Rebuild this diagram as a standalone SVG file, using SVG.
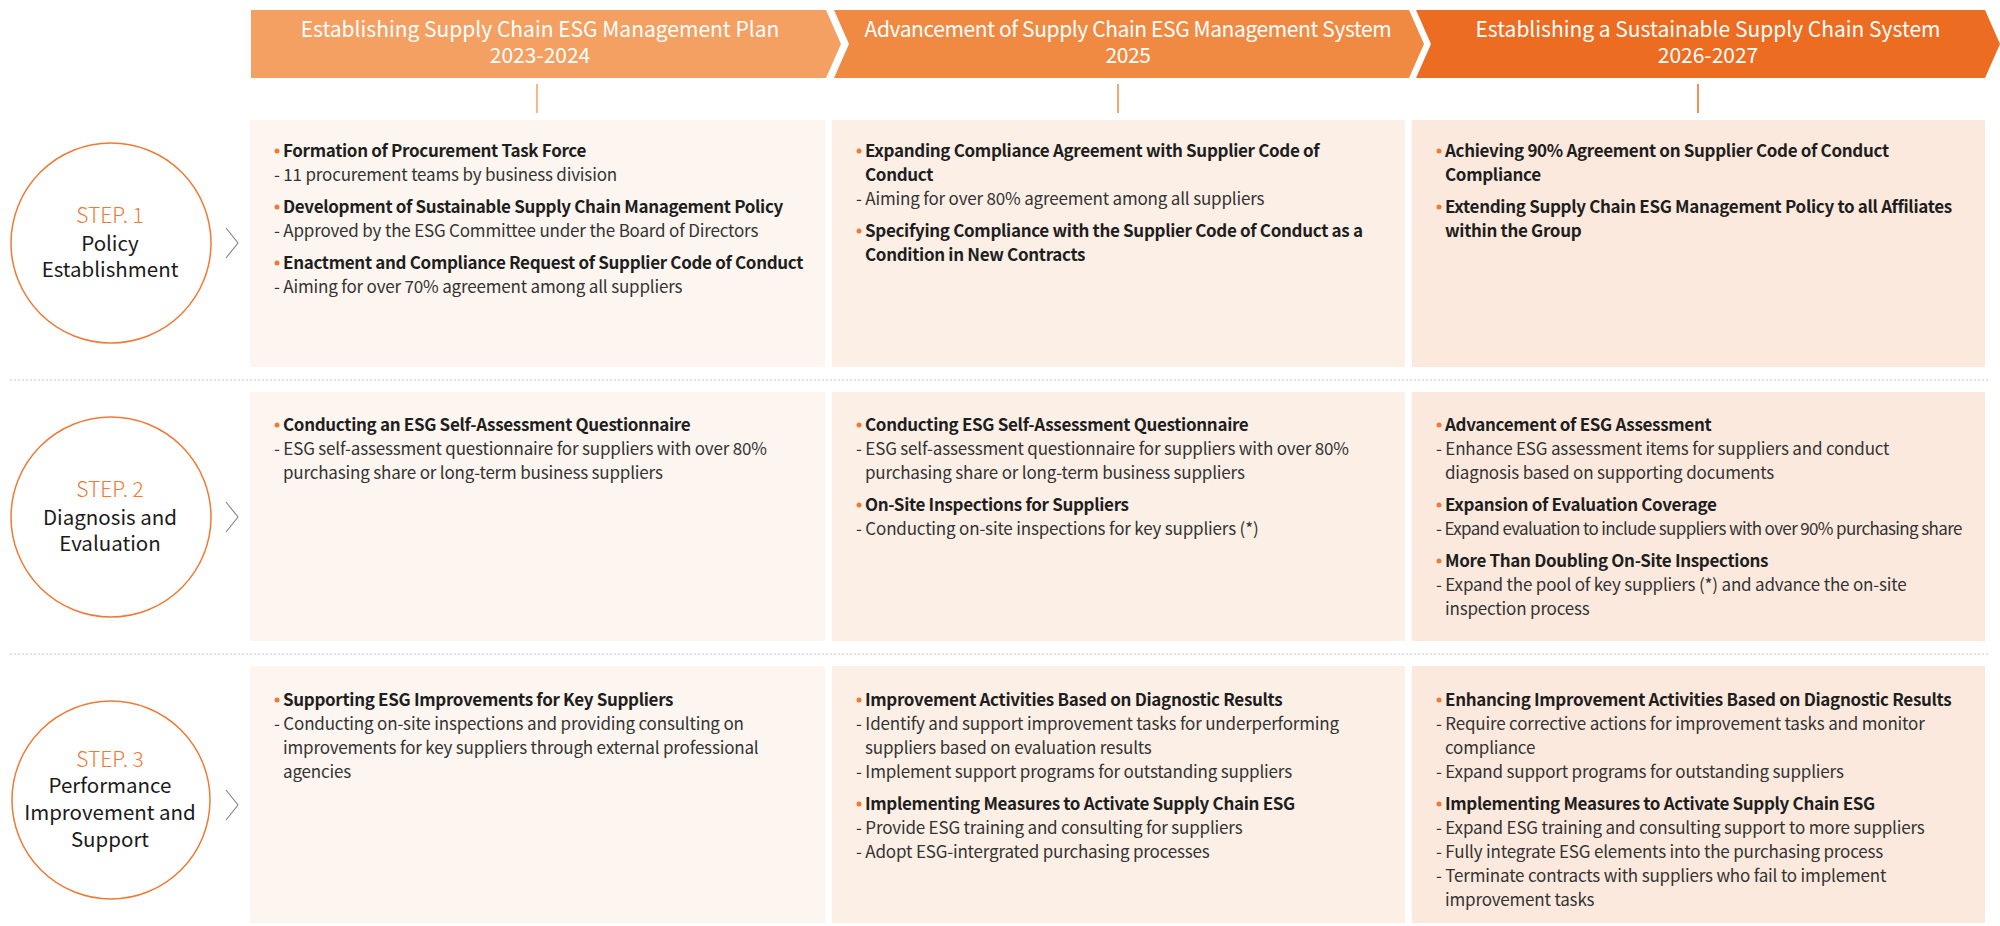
<svg xmlns="http://www.w3.org/2000/svg" width="2000" height="926" viewBox="0 0 2000 926">
<style>
.bt{font-family:"Noto Sans CJK KR","Source Han Sans",sans-serif;font-size:21px;fill:#fff;text-anchor:middle}
.h{font-family:"Noto Sans CJK KR","Source Han Sans",sans-serif;font-size:17px;font-weight:bold;fill:#1e1e1e;letter-spacing:-0.32px}
.d{font-family:"Noto Sans CJK KR","Source Han Sans",sans-serif;font-size:17px;fill:#333;letter-spacing:-0.18px}
.st{font-family:"Noto Sans CJK KR","Source Han Sans",sans-serif;font-size:21px;font-weight:300;fill:#EE7A35;text-anchor:middle}
.sn{font-family:"Noto Sans CJK KR","Source Han Sans",sans-serif;font-size:20.5px;fill:#1a1a1a;text-anchor:middle}
.circ{fill:#fff;stroke:#EE7A35;stroke-width:1.5}
.dot{fill:#EE7A35}
.chev{fill:none;stroke:#8a8a8a;stroke-width:1.2}
.sep{stroke:#c8c8c8;stroke-width:1;stroke-dasharray:2 2}
</style>

<g id="header">
  <g id="phase1">
    <polygon points="251,10 826,10 841,44 826,78 251,78" fill="#F4A062"/>
    <text class="bt" x="540" y="37">Establishing Supply Chain ESG Management Plan<tspan x="540" dy="26">2023-2024</tspan></text>
  </g>
  <g id="phase2">
    <polygon points="834,10 1409,10 1424,44 1409,78 834,78 849,44" fill="#F08A42"/>
    <text class="bt" x="1128" y="37" style="letter-spacing:-0.4px">Advancement of Supply Chain ESG Management System<tspan x="1128" dy="26">2025</tspan></text>
  </g>
  <g id="phase3">
    <polygon points="1416,10 1985,10 2000,44 1985,78 1416,78 1431,44" fill="#EC6D21"/>
    <text class="bt" x="1708" y="37">Establishing a Sustainable Supply Chain System<tspan x="1708" dy="26">2026-2027</tspan></text>
  </g>
</g>

<g id="separators">
  <line class="sep" x1="10" y1="380" x2="1990" y2="380"/>
  <line class="sep" x1="10" y1="654" x2="1990" y2="654"/>
</g>

<g id="connectors">
  <line x1="537" y1="84" x2="537" y2="113" stroke="#F4A062" stroke-width="1.5"/>
  <line x1="1118" y1="84" x2="1118" y2="113" stroke="#F08A42" stroke-width="1.5"/>
  <line x1="1698" y1="84" x2="1698" y2="113" stroke="#EC6D21" stroke-width="1.5"/>
  <polyline class="chev" points="226,228 238,243 226,258"/>
  <polyline class="chev" points="226,502 238,517 226,532"/>
  <polyline class="chev" points="226,790 238,805 226,820"/>
</g>

<g id="step1">
  <circle class="circ" cx="111" cy="243" r="100"/>
  <text class="st" x="110" y="223">STEP. 1</text>
  <text class="sn" x="110" y="251">Policy</text>
  <text class="sn" x="110" y="277">Establishment</text>
</g>
<g id="step2">
  <circle class="circ" cx="111" cy="517" r="100"/>
  <text class="st" x="110" y="497">STEP. 2</text>
  <text class="sn" x="110" y="525">Diagnosis and</text>
  <text class="sn" x="110" y="551">Evaluation</text>
</g>
<g id="step3">
  <circle class="circ" cx="111" cy="800" r="99"/>
  <text class="st" x="110" y="767">STEP. 3</text>
  <text class="sn" x="110" y="793">Performance</text>
  <text class="sn" x="110" y="820">Improvement and</text>
  <text class="sn" x="110" y="847">Support</text>
</g>

<!-- Row 1 -->
<g id="r1c1">
  <rect x="250" y="120" width="575" height="247" fill="#FDF5EF"/>
  <circle class="dot" cx="277" cy="151" r="2.5"/>
  <text class="h" x="283" y="157">Formation of Procurement Task Force</text>
  <text class="d" x="274" y="181">- 11 procurement teams by business division</text>
  <circle class="dot" cx="277" cy="207" r="2.5"/>
  <text class="h" x="283" y="213">Development of Sustainable Supply Chain Management Policy</text>
  <text class="d" x="274" y="237">- Approved by the ESG Committee under the Board of Directors</text>
  <circle class="dot" cx="277" cy="263" r="2.5"/>
  <text class="h" x="283" y="269">Enactment and Compliance Request of Supplier Code of Conduct</text>
  <text class="d" x="274" y="293">- Aiming for over 70% agreement among all suppliers</text>
</g>
<g id="r1c2">
  <rect x="832" y="120" width="573" height="247" fill="#FCEFE6"/>
  <circle class="dot" cx="859" cy="151" r="2.5"/>
  <text class="h" x="865" y="157">Expanding Compliance Agreement with Supplier Code of</text>
  <text class="h" x="865" y="181">Conduct</text>
  <text class="d" x="856" y="205">- Aiming for over 80% agreement among all suppliers</text>
  <circle class="dot" cx="859" cy="231" r="2.5"/>
  <text class="h" x="865" y="237">Specifying Compliance with the Supplier Code of Conduct as a</text>
  <text class="h" x="865" y="261">Condition in New Contracts</text>
</g>
<g id="r1c3">
  <rect x="1412" y="120" width="573" height="247" fill="#FCE9DD"/>
  <circle class="dot" cx="1439" cy="151" r="2.5"/>
  <text class="h" x="1445" y="157">Achieving 90% Agreement on Supplier Code of Conduct</text>
  <text class="h" x="1445" y="181">Compliance</text>
  <circle class="dot" cx="1439" cy="207" r="2.5"/>
  <text class="h" x="1445" y="213">Extending Supply Chain ESG Management Policy to all Affiliates</text>
  <text class="h" x="1445" y="237">within the Group</text>
</g>

<!-- Row 2 -->
<g id="r2c1">
  <rect x="250" y="392" width="575" height="249" fill="#FDF5EF"/>
  <circle class="dot" cx="277" cy="425" r="2.5"/>
  <text class="h" x="283" y="431">Conducting an ESG Self-Assessment Questionnaire</text>
  <text class="d" x="274" y="455">- ESG self-assessment questionnaire for suppliers with over 80%</text>
  <text class="d" x="283" y="479">purchasing share or long-term business suppliers</text>
</g>
<g id="r2c2">
  <rect x="832" y="392" width="573" height="249" fill="#FCEFE6"/>
  <circle class="dot" cx="859" cy="425" r="2.5"/>
  <text class="h" x="865" y="431">Conducting ESG Self-Assessment Questionnaire</text>
  <text class="d" x="856" y="455">- ESG self-assessment questionnaire for suppliers with over 80%</text>
  <text class="d" x="865" y="479">purchasing share or long-term business suppliers</text>
  <circle class="dot" cx="859" cy="505" r="2.5"/>
  <text class="h" x="865" y="511">On-Site Inspections for Suppliers</text>
  <text class="d" x="856" y="535">- Conducting on-site inspections for key suppliers (*)</text>
</g>
<g id="r2c3">
  <rect x="1412" y="392" width="573" height="249" fill="#FCE9DD"/>
  <circle class="dot" cx="1439" cy="425" r="2.5"/>
  <text class="h" x="1445" y="431">Advancement of ESG Assessment</text>
  <text class="d" x="1436" y="455">- Enhance ESG assessment items for suppliers and conduct</text>
  <text class="d" x="1445" y="479">diagnosis based on supporting documents</text>
  <circle class="dot" cx="1439" cy="505" r="2.5"/>
  <text class="h" x="1445" y="511">Expansion of Evaluation Coverage</text>
  <text class="d" x="1436" y="535" style="letter-spacing:-0.64px">- Expand evaluation to include suppliers with over 90% purchasing share</text>
  <circle class="dot" cx="1439" cy="561" r="2.5"/>
  <text class="h" x="1445" y="567">More Than Doubling On-Site Inspections</text>
  <text class="d" x="1436" y="591">- Expand the pool of key suppliers (*) and advance the on-site</text>
  <text class="d" x="1445" y="615">inspection process</text>
</g>

<!-- Row 3 -->
<g id="r3c1">
  <rect x="250" y="666" width="575" height="257" fill="#FDF5EF"/>
  <circle class="dot" cx="277" cy="700" r="2.5"/>
  <text class="h" x="283" y="706">Supporting ESG Improvements for Key Suppliers</text>
  <text class="d" x="274" y="730">- Conducting on-site inspections and providing consulting on</text>
  <text class="d" x="283" y="754">improvements for key suppliers through external professional</text>
  <text class="d" x="283" y="778">agencies</text>
</g>
<g id="r3c2">
  <rect x="832" y="666" width="573" height="257" fill="#FCEFE6"/>
  <circle class="dot" cx="859" cy="700" r="2.5"/>
  <text class="h" x="865" y="706">Improvement Activities Based on Diagnostic Results</text>
  <text class="d" x="856" y="730">- Identify and support improvement tasks for underperforming</text>
  <text class="d" x="865" y="754">suppliers based on evaluation results</text>
  <text class="d" x="856" y="778">- Implement support programs for outstanding suppliers</text>
  <circle class="dot" cx="859" cy="804" r="2.5"/>
  <text class="h" x="865" y="810">Implementing Measures to Activate Supply Chain ESG</text>
  <text class="d" x="856" y="834">- Provide ESG training and consulting for suppliers</text>
  <text class="d" x="856" y="858">- Adopt ESG-intergrated purchasing processes</text>
</g>
<g id="r3c3">
  <rect x="1412" y="666" width="573" height="257" fill="#FCE9DD"/>
  <circle class="dot" cx="1439" cy="700" r="2.5"/>
  <text class="h" x="1445" y="706">Enhancing Improvement Activities Based on Diagnostic Results</text>
  <text class="d" x="1436" y="730">- Require corrective actions for improvement tasks and monitor</text>
  <text class="d" x="1445" y="754">compliance</text>
  <text class="d" x="1436" y="778">- Expand support programs for outstanding suppliers</text>
  <circle class="dot" cx="1439" cy="804" r="2.5"/>
  <text class="h" x="1445" y="810">Implementing Measures to Activate Supply Chain ESG</text>
  <text class="d" x="1436" y="834">- Expand ESG training and consulting support to more suppliers</text>
  <text class="d" x="1436" y="858">- Fully integrate ESG elements into the purchasing process</text>
  <text class="d" x="1436" y="882">- Terminate contracts with suppliers who fail to implement</text>
  <text class="d" x="1445" y="906">improvement tasks</text>
</g>
</svg>
